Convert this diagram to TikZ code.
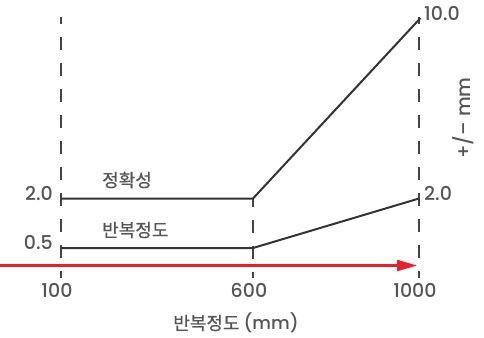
\documentclass[tikz,border=0pt]{standalone}
\usepackage{fontspec}
\setmainfont{Poppins}[UprightFont=* Medium]
\newfontfamily\kr{Noto Sans CJK KR}[FakeBold=0.6]
\usetikzlibrary{arrows.meta}
\definecolor{txtgray}{HTML}{555555}
\definecolor{linegray}{HTML}{333333}
\definecolor{dashgray}{HTML}{444444}
\definecolor{arrowred}{HTML}{E8202A}
\tikzset{
  lbl/.style={text=txtgray, inner sep=0pt, font=\fontsize{19bp}{22bp}\selectfont},
  krlbl/.style={text=txtgray, inner sep=0pt, font=\kr\fontsize{18bp}{22bp}\selectfont},
  dataline/.style={draw=linegray, line width=2bp},
  guide/.style={draw=dashgray, line width=2bp, dash pattern=on 13bp off 13bp, dash phase=6bp},
  redarrow/.style={draw=arrowred, line width=2.4bp, -{Triangle[length=20bp,width=11bp]}}
}
\begin{document}
\begin{tikzpicture}[x=1bp,y=-1bp]
\useasboundingbox (0,0) rectangle (484,337);
% guide end points
\coordinate (gAtop) at (61,17);
\coordinate (gAbot) at (61,278);
\coordinate (gBtop) at (253,198.5);
\coordinate (gBbot) at (253,278);
\coordinate (gCtop) at (419,17);
\coordinate (gCbot) at (419,278);
% data points
\coordinate (a1) at (61,198.5);
\coordinate (a2) at (253,198.5);
\coordinate (a3) at (420.5,18);
\coordinate (r1) at (61,248);
\coordinate (r2) at (253,248);
\coordinate (r3) at (419,198.5);
% arrow ends
\coordinate (arS) at (-2,265.5);
\coordinate (arE) at (417,265.5);
% guides
\draw[guide] (gAtop) -- (gAbot);
\draw[guide] (gCtop) -- (gCbot);
\draw[guide, dash phase=5bp] (gBtop) -- (gBbot);
% data lines
\draw[dataline] (a1) -- (a2) -- (a3);
\draw[dataline] (r1) -- (r2) -- (r3);
% red arrow
\draw[redarrow] (arS) -- (arE);
% labels
\node[lbl, anchor=east] (l20) at (53,193) {2.0};
\node[lbl, anchor=east] (l05) at (53,243) {0.5};
\node[krlbl, anchor=west] (acc) at (102,180) {정확성};
\node[krlbl, anchor=west] (rep) at (102,230) {반복정도};
\node[lbl] (x100) at (57,290) {100};
\node[lbl] (x600) at (249,290) {600};
\node[lbl] (x1000) at (415,290) {1000};
\node[krlbl] (xlab) at (236,323) {반복정도 {\rmfamily\fontsize{18bp}{22bp}\selectfont(mm)}};
\node[lbl, anchor=west] (r100) at (424,14) {10.0};
\node[lbl, anchor=west] (r20) at (424,193) {2.0};
\node[lbl, rotate=90] (ylab) at (463,118) {+/– mm};
\end{tikzpicture}
\end{document}
